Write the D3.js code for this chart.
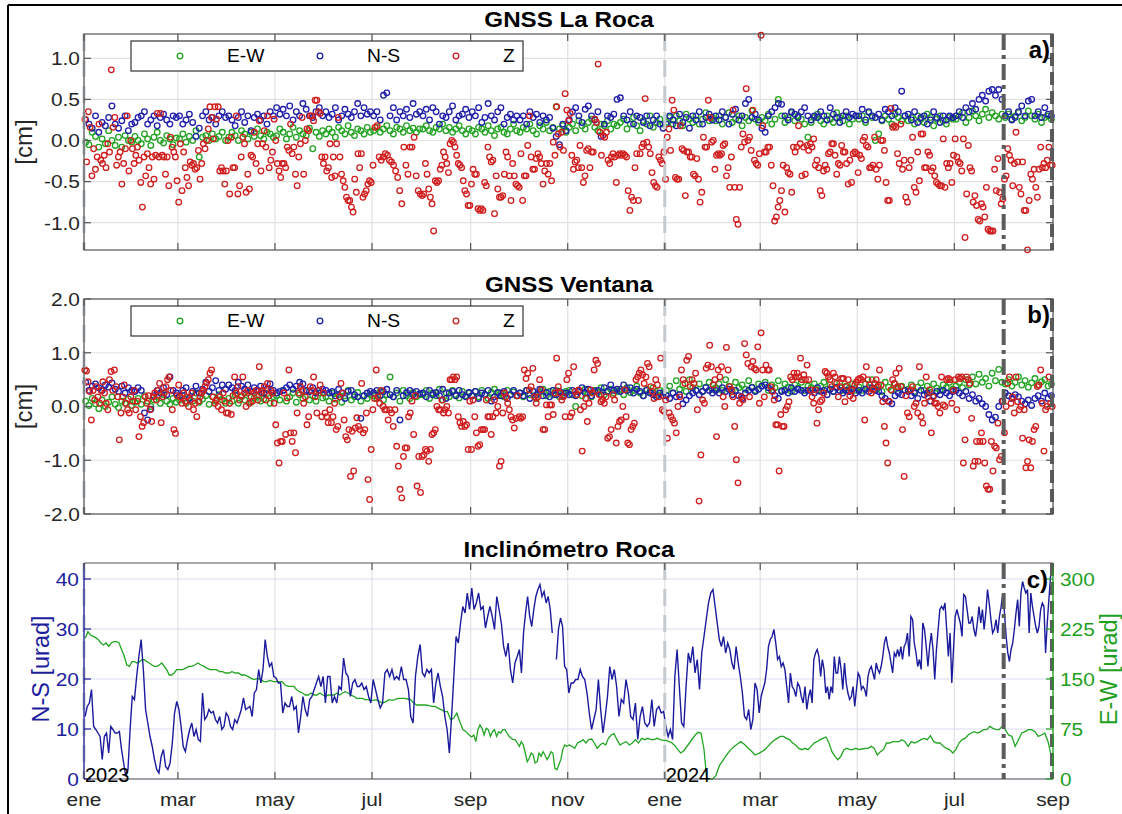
<!DOCTYPE html>
<html><head><meta charset="utf-8">
<script src="https://cdn.jsdelivr.net/npm/d3@7/dist/d3.min.js"></script>
<style>body{margin:0;background:#fff;}svg{display:block;}</style>
</head><body>
<script>
// ---------------- DATA (values per month, Jan 2023 .. Aug 2024) ----------------
const monthNames = ["ene","feb","mar","abr","may","jun","jul","ago","sep","oct","nov","dic"];
const panelTitles = ["GNSS La Roca","GNSS Ventana","Inclinómetro Roca"];
const legendLabels = ["E-W","N-S","Z"];
const ticksA = [-1.0,-0.5,0.0,0.5,1.0];
const ticksB = [-2.0,-1.0,0.0,1.0,2.0];
const ticksCLeft = [0,10,20,30,40];
const ticksCRight = [0,75,150,225,300];

// GNSS La Roca, Z [cm]
const rocaZ = [
[0.26,-0.26,0.35,0.16,-0.43,-0.10,-0.35,-0.20,0.2,-0.24,-0.28,-0.18,-0.33,-0.04,-0.14,0.86,0.16,0.28,-0.30,-0.2,-0.14,-0.53,-0.28,-0.1,0.3,-0.37,0,-0.1],
[-0.28,-0.18,-0.08,-0.24,-0.51,-0.81,-0.2,-0.43,-0.16,-0.33,-0.53,-0.2,-0.47,-0.18,0.33,-0.2,0.33,-0.18,-0.2,-0.41,-0.2,-0.55,0.04,-0.08,-0.14,-0.2,-0.49],
[-0.75,-0.04,-0.61,-0.14,-0.33,-0.45,-0.55,-0.26,-0.3,-0.28,-0.35,-0.33,-0.12,-0.47,-0.28,-0.04,-0.1,0,0.14,0.41,0.28,0.02,0.41,0.26,0.41,-0.37,-0.33,-0.37,-0.53,-0.37],
[0,-0.65,0.04,-0.33,-0.33,0.3,-0.65,-0.55,-0.2,0.04,-0.04,-0.63,-0.41,-0.59,-0.18,-0.2,0.1,-0.28,-0.04,0.24,-0.37,-0.04,0.12,-0.08,0.3,-0.33,-0.24,-0.14,0.26],
[0,-0.28,-0.37,-0.45,-0.28,-0.28,-0.33,-0.08,-0.12,0.2,-0.16,-0.08,-0.41,-0.55,-0.2,-0.04,0.28,-0.41,0,0.14,0.12,0.3,0.3,0.24,0.49,0.49,0.35,0.33,-0.2,-0.28],
[-0.2,-0.37,-0.33,-0.04,-0.45,-0.2,-0.43,-0.04,0.28,-0.2,-0.41,-0.49,-0.57,-0.69,-0.73,-0.73,-0.81,-0.87,-0.47,-0.63,-0.16,-0.33,-0.16,-0.69,-0.65,-0.61,-0.53,-0.49,-0.51],
[-0.3,0.16,0.18,-0.2,-0.24,-0.2,-0.16,-0.18,-0.24,-0.26,-0.3,-0.37,-0.45,-0.61,-0.77,-0.08,-0.3,-0.41,-0.08,-0.08,0.04,-0.43,-0.61,-0.65],
[-0.67,-0.65,-0.28,-0.41,-0.59,-0.69,-0.77,-1.10,-0.49,-0.51,-0.49,-0.35,-0.3,-0.14,-0.2,-0.28,-0.39,-0.04,0,-0.02,-0.08,-0.18,-0.28,-0.3,-0.33,-0.49,-0.61,-0.65,-0.79,-0.79],
[-0.53,-0.35,-0.41,-0.41,-0.83,-0.85,-0.83,-0.85,-0.51,-0.55,-0.08,-0.2,-0.26,-0.24,-0.89,-0.43,-0.59,-0.69,-0.69,-0.67,-0.41,-0.14,-0.2,-0.43,-0.73,-0.28,-0.43,-0.53,-0.55],
[-0.57,-0.16,-0.73,-0.43,-0.43,-0.06,0.3,-0.2,-0.35,-0.35,-0.22,-0.16,-0.2,-0.28,-0.53,-0.37,-0.28,-0.41,-0.28,-0.49,-0.02,-0.18,0.41,0.08,-0.08,0.1,-0.12,0.57,0.37],
[0.24,0.33,-0.18,-0.35,-0.26,-0.24,-0.33,-0.06,-0.33,-0.51,-0.43,-0.12,-0.1,-0.33,-0.14,-0.14,0.26,0.22,0.93,0.1,-0.18,0.06,0.04,0.1,-0.24,-0.28,-0.2,-0.16,-0.2],
[-0.51,-0.18,-0.16,-0.18,-0.16,-0.18,-0.2,-0.61,-0.85,-0.69,-0.73,-0.33,-0.16,-0.73,-0.16,-0.08,-0.04,0.51,-0.02,-0.08,-0.16,-0.39,-0.51,-0.55,-0.57,-0.2,-0.24,-0.28,-0.14],
[-0.47,0.04,0.14,-0.12,0.49,0.37,-0.45,-0.47,-0.47,0.18,-0.1,-0.12,-0.67,-0.14,-0.14,-0.2,-0.2,-0.41,-0.43,-0.22,-0.47,-0.75,-0.63,0.04,-0.08,-0.08,0.49,0.28,-0.02,0],
[-0.35,-0.18,-0.16,-0.18,-0.16,-0.06,-0.04,-0.43,-0.33,-0.57,-0.2,0.37,-0.57,-0.96,-1.02,-0.57,-0.08,0.08,-0.02,0.63,0,0.04,-0.12,0.37,-0.24,-0.28,-0.3,-0.16],
[1.28,0.18,-0.14,-0.14,-0.08,-0.08,-0.3,-0.55,-0.98,-0.93,-0.81,-0.73,-0.61,-0.3,-0.87,-0.33,-0.39,-0.41,-0.63,-0.08,-0.14,-0.08,0.18,-0.04,-0.43,-0.08,-0.41,-0.06,-0.12],
[-0.04,-0.08,0.02,-0.3,-0.24,-0.33,-0.61,-0.67,-0.37,-0.3,-0.35,-0.16,-0.14,-0.04,-0.04,-0.18,-0.41,-0.28,-0.3,-0.06,-0.14,-0.14,-0.28,-0.53,-0.24,-0.51,-0.16,-0.14,-0.16],
[-0.39,-0.18,-0.22,0,0.04,-0.06,-0.08,-0.33,-0.33,-0.3,0.04,-0.35,-0.47,-0.3,0,0,-0.12,-0.51,-0.73,-0.73,0.39,0.16,0.18,0.16,-0.16,-0.28,0.2,-0.35,-0.24,-0.69],
[-0.75,-0.33,-0.24,0.04,-0.57,-0.63,-0.14,-0.49,0.08,0.08,-0.33,-0.33,-0.14,-0.18,-0.37,-0.33,-0.43,-0.51,-0.53,-0.55,-0.55,0.02,-0.57,-0.28,-0.33,-0.28,-0.51,-0.18],
[0.02,-0.2,-0.26,-0.28,-0.37,0.02,-1.18,-0.65,-0.06,-0.33,-0.37,-0.75,-0.67,-0.79,-0.96,-0.98,-0.77,-0.81,-0.93,-0.57,-1.08,-1.1,-1.1,-1.1,-0.35,-0.61,-0.22,-0.63,-0.77,-0.71],
[-0.47,-0.43,-0.1,-0.18,-0.24,-0.55,-0.28,0.1,-0.26,-0.57,-0.65,-0.26,-0.85,-0.85,-1.33,-0.73,-0.41,-0.47,-0.35,-0.57,-0.69,-0.35,-0.08,-0.33,-0.28,-0.33,-0.24,-0.08,-0.3,-0.3]
];
// GNSS La Roca, E-W [cm]
const rocaEW = [
[-0.02,-0.05,0.1,0.05,-0.08,0.02,-0.04,0.12,0,-0.06,0.04,-0.08,0.06,0,-0.02],
[0.05,0,-0.04,0.08,0.02,-0.06,0.04,0.1,0,-0.03,0.06,0.02,-0.05,0.03],
[0.02,0.08,-0.02,0.05,0,0.12,-0.2,0.04,0.06,0,0.08,0.02,0.05,0.1,0],
[0.04,0.1,0.06,0,0.12,0.08,0.02,0.1,0.05,0.14,0.06,0.02,0.1,0.08,0.04],
[0.06,0.14,0.1,0.02,0.08,0.16,0.04,0.12,0.08,0.06,0.15,-0.1,0.1,0.05,0.12],
[0.08,0.14,0.1,0.04,0.16,0.12,0.08,0.18,0.1,0.06,0.14,0.12,0.08,0.16,0.1],
[0.12,0.16,0.1,0.14,0.18,0.12,0.08,0.16,0.14,0.1,0.18,0.12,0.15,0.1,0.14],
[0.14,0.18,0.12,0.1,0.16,0.14,0.2,0.12,0.16,0.1,0.14,0.18,0.12,0.08,0.14],
[0.12,0.08,0.16,0.14,0.1,0.18,0.12,0.06,0.14,0.16,0.1,0.08,0.14,0.2,0.12],
[0.1,0.16,0.14,0.2,0.12,0.08,0.18,0.14,0.22,0.12,0.16,0.41,0.14,0.18,0.1],
[0.16,0.2,0.12,0.24,0.18,0.14,0.22,0.26,0.16,0.12,0.2,0.18,0.24,0.14,0.2],
[0.18,0.22,0.26,0.14,0.2,0.28,0.18,0.12,0.24,0.2,0.3,0.16,0.22,0.26,0.2],
[0.22,0.28,0.2,0.3,0.24,0.18,0.32,0.26,0.22,0.3,0.2,0.26,0.34,0.24,0.28],
[0.24,0.3,0.2,0.28,0.34,0.22,0.26,0.3,0.18,0.28,0.24,0.36,0.26,0.22],
[0.28,0.24,0.32,0.2,0.26,0.5,0.3,0.22,0.28,0.34,0.24,0.3,0.26,0.2,0.04],
[0.22,0.28,0.32,0.24,0.2,0.3,0.26,0.22,0.34,0.28,0.24,0.3,0.2,0.26,0.3],
[0.26,0.3,0.22,0.34,0.28,0,0.08,0.24,0.3,0.26,0.2,0.32,0.28,0.24,0.3],
[0.24,0.28,0.2,0.3,0.26,0.22,0.32,0.28,0.18,0.26,0.3,0.24,0.2,0.28,0.26],
[0.26,0.3,0.34,0.22,0.28,0.36,0.3,0.24,0.32,0.38,0.28,0.34,0.3,0.26,0.32],
[0.28,0.32,0.26,0.3,0.34,0.24,0.28,0.36,0.3,0.26,0.32,0.22,0.28,0.3,0.26]
];
// GNSS La Roca, N-S [cm]
const rocaNS = [
[0.25,0.2,0.15,0.3,0.1,0.22,0.18,0.28,0.42,0.2,0.15,0.24,0.3,0.12,0.2],
[0.22,0.28,0.3,0.35,0.2,0.25,0.3,0.18,0.28,0.32,0.25,0.2,0.3,0.28],
[0.3,0.2,0.25,0.32,0.22,0.05,0.15,0.3,0.35,0.25,0.28,0.2,0.3,0.35,0.28],
[0.3,0.25,0.18,0.28,0.35,0.22,0.3,0.12,0.28,0.32,0.25,0.3,0.2,0.35,0.3],
[0.4,0.32,0.38,0.3,0.42,0.25,0.35,0.3,0.45,0.38,0.3,0.28,0.35,0.4,0.3],
[0.35,0.28,0.32,0.4,0.25,0.3,0.38,0.32,0.28,0.35,0.45,0.3,0.4,0.32,0.35],
[0.3,0.35,0.25,0.55,0.58,0.3,0.4,0.25,0.35,0.3,0.38,0.28,0.45,0.32,0.35],
[0.3,0.38,0.25,0.4,0.35,0.2,0.3,0.28,0.35,0.42,0.25,0.3,0.32,0.38,0.28],
[0.35,0.3,0.4,0.22,0.28,0.45,0.3,0.25,0.35,0.4,0.2,0.28,0.32,0.25,0.3],
[0.25,0.3,0.2,0.35,0.28,0.32,0.22,0.3,0.25,0.28,0.15,0.05,-0.05,0.2,0.12],
[0.25,0.35,0.4,0.3,0.22,0.38,0.42,0.3,0.25,0.35,0.05,0.2,0.3,0.28,0.32],
[0.5,0.52,0.3,0.25,0.35,0.2,0.3,0.28,0.22,0.3,0.18,0.25,0.3,0.2,0.15],
[0.2,0.3,0.25,0.18,0.32,0.22,0.28,0.15,0.3,0.25,0.35,0.2,0.28,0.32,0.25],
[0.3,0.25,0.35,0.28,0.2,0.32,0.38,0.25,0.3,0.45,0.5,0.28,0.32,0.25],
[0.15,0.1,0.3,0.35,0.4,0.45,0.44,0.3,0.25,0.35,0.32,0.28,0.35,0.4,0.3],
[0.25,0.3,0.28,0.35,0.3,0.25,0.4,0.32,0.28,0.22,0.3,0.35,0.28,0.32,0.3],
[0.3,0.38,0.25,0.35,0.3,0.28,0.32,0.25,0.38,0.35,0.3,0.4,0.35,0.6,0.3],
[0.32,0.25,0.35,0.22,0.28,0.3,0.2,0.25,0.35,0.28,0.22,0.3,0.25,0.3,0.28],
[0.3,0.35,0.28,0.4,0.35,0.45,0.38,0.5,0.55,0.48,0.6,0.62,0.55,0.62,0.5],
[0.3,0.35,0.25,0.28,0.35,0.42,0.3,0.48,0.5,0.3,0.35,0.28,0.4,0.32,0.3]
];
// GNSS Ventana, Z [cm]
const ventZ = [
[0.68,0.66,0.46,0.28,-0.25,0.3,0.12,0.37,0.18,0.06,0.3,0.46,0.25,0.06,-0.06,0.5,0.65,0.3,0.68,0.37,0.18,-0.62,-0.12,0.18,0.4,0.06,-0.06,-0.12,0.18,0.1],
[0.3,-0.06,0.1,-0.56,-0.19,-0.37,-0.3,0.18,0.06,0.2,-0.06,-0.28,0.18,0.25,0.12,0.3,0.43,-0.3,0.18,0.25,0.37,0.5,0.55,0.3,-0.06,-0.43,-0.5,0.2],
[0.4,0.18,0.06,0.25,0.1,0.18,0,0.12,0.25,-0.06,0.06,-0.19,0.1,0.18,0.25,0.3,0.37,0.44,0.5,0.62,0.68,0.18,0.06,0.12,0,0.18,-0.06,0.25,0.1,-0.12],
[-0.12,0.06,-0.15,0.2,0.55,0.25,0.37,0.12,0.2,0.55,0.25,0,0.3,0.06,0.18,0.1,0.25,0.3,0.12,0.74,0.25,0.3,0.37,0.12,0.43,0.2,0.3,0.25,0.06],
[-0.34,-0.68,-1.05,-0.65,-0.65,0.25,-0.52,0.16,0.68,-0.49,-0.65,-0.49,-0.86,-0.12,0.25,0.37,0.3,0.06,0.18,-0.34,-0.19,0.37,0.3,0.55,0.18,-0.12,0.3,0.4,-0.19,0.25],
[-0.12,-0.19,-0.3,-0.06,-0.3,-0.19,0.06,-0.43,-0.37,0.18,0.43,0.25,-0.25,-0.56,-0.62,-0.43,-1.3,-0.46,-1.2,-0.4,-0.21,-0.37,-0.43,0.43,-0.49,-0.43,-0.12,-1.36,-1.73,-0.8],
[-0.06,0.15,0.68,0.18,0.06,0.3,0,-0.06,-0.06,-0.25,-0.06,-0.12,-0.37,-0.06,-0.74,-1.11,-1.54,-1.7,-0.93,-0.77,-0.77,-0.19,-0.12,0.1,-0.52,0.2,-1.48,-0.93,-1.6],
[-0.93,-0.9,-0.8,-0.83,-1.02,-0.8,-0.52,-0.49,-0.43,0,-0.06,-0.06,0.12,-0.12,-0.06,0,-0.12,0.5,0.5,0.55,0.5,0.55,-0.19,-0.3,-0.37,-0.28,-0.37,-0.34,-0.8,0.1],
[-0.8,0.12,-0.19,-0.49,-0.74,-0.71,-0.43,-0.43,-0.43,0.12,-0.19,-0.19,-0.52,-0.19,0.12,-0.12,0,-1.11,-1.02,-0.12,0.25,0.18,0.06,-0.06,-0.19,-0.25,-0.4,-0.22,0.2],
[-0.19,-0.22,-0.19,0.68,0.52,0.62,0.31,0.37,0.71,0.18,0.06,0.18,0.5,0.31,-0.43,-0.43,0.03,-0.19,0.03,0.03,-0.15,0.25,0.9,0.37,0.25,0.12,0.18,-0.19,0.5],
[0.62,-0.19,-0.12,0.74,0.28,0.22,0.31,-0.06,-0.83,0,0.15,-0.28,0.06,0.31,0.25,0.68,0.86,0.8,0.22,0.09,0.12,0.06,0.18,-0.59,-0.56,-0.43,0.22,0.12],
[-0.68,-0.37,-0.28,-0.25,0,0.31,-0.19,-0.68,-0.71,-0.43,-0.37,-0.31,0.5,0.55,0.62,0.68,0.59,0.43,0.55,0.8,0.74,0.37,0.28,0.15,0.5,0.4,0.18,0.9,-0.06,-0.09],
[0.12,-0.59,-0.12,-0.19,-0.25,-0.31,-0.49,0,0.18,0.68,0.5,0.43,0.86,0.93,0.37,0.5,0.43,0.62,-0.06,-1.76,-0.9,0.12,0.06,0.71,0.77,1.14,0.74,0.4],
[0.5,-0.56,0.68,0.55,0.74,0.18,0,1.1,0.68,0.37,0.31,0.18,-0.37,-0.99,-1.42,0.06,0.18,0.12,1.17,0.96,0.8,0.18,0.74,0.84,0.71,0.68,1.11,0.06],
[1.37,0.68,0.18,0.77,0.68,0.68,0.37,0.28,0.12,-0.34,-0.34,-1.2,-0.15,-0.37,-0.37,-0.06,0,0.09,0.55,0.5,0.62,0.55,0.62,0.55,0.9,0.5,0.59,0.5,0.77,0.5],
[0.31,0.18,0.06,0.31,-0.31,-0.06,0.09,0.12,0.25,0.65,0.62,0.55,0.5,0.37,0.62,0.55,0.43,0.18,0.37,0.52,0.52,0.09,0.37,0.5,0.2,0.3,0.15,0.4,0.45],
[0.5,0.52,0.5,0.55,-0.25,0.74,0.5,0.4,0.25,0.31,0.43,0.5,0.37,0.68,0.4,0.09,-0.37,-0.68,-1.05,0.09,0.31,0.5,0.43,0.62,0.37,0.71,0.37,-0.43,-1.3,0.2],
[-0.12,-0.19,0.31,0.37,0,0.06,-0.12,0.74,-0.19,-0.31,0.06,0.55,0.18,0.31,-0.49,0.18,0.06,0.06,0,-0.12,0.55,0.03,0,0.5,0.52,0.5,0.06,0.3],
[0.5,-0.06,0.55,0.52,0.55,-1.05,-0.62,0.55,0.5,0.43,-0.22,-1.11,-1.02,-0.65,-1.02,-0.65,-0.49,-0.65,-1.05,-1.48,-1.54,-1.54,-0.65,-1.2,-0.74,-0.77,-0.31,-0.99,-0.93,0.1],
[-0.49,0,0.43,0.55,0.06,0.18,-0.12,0.55,0.09,-0.06,0,-0.59,-0.06,-1.14,-1.02,-0.62,-1.14,-0.65,-0.43,-0.37,0.37,0.4,0.68,0.06,-0.83,-0.06,0,0.55,0.06,0]
];
// GNSS Ventana, E-W [cm]
const ventEW = [
[0.1,0.02,0.15,0.05,-0.04,0.12,0,0.08,0.18,0.04,-0.02,0.1,0.06,0.14,0.02],
[0.08,0.15,0.04,0.2,0.1,0,0.12,0.18,0.06,0.22,0.1,0.04,0.15,0.08],
[0.12,0.2,0.06,0.16,0.1,0.25,0.08,0.14,0.2,0.04,0.18,0.1,0.22,0.12,0.06],
[0.15,0.1,0.22,0.06,0.18,0.12,0.25,0.08,0.16,0.2,0.1,0.14,0.24,0.06,0.18],
[0.2,0.12,0.3,0.1,0.18,0.25,0.08,0.22,0.15,0.28,0.12,0.2,0.1,0.25,0.16],
[0.18,0.1,0.25,0.14,0.22,0.08,0.2,0.3,0.12,0.18,0.26,0.1,0.2,0.15,0.22],
[0.2,0.15,0.28,0.12,0.22,0.55,0.18,0.25,0.1,0.3,0.2,0.15,0.26,0.18,0.22],
[0.22,0.3,0.15,0.25,0.2,0.32,0.12,0.26,0.18,0.3,0.22,0.16,0.28,0.2,0.25],
[0.2,0.28,0.18,0.3,0.22,0.15,0.26,0.32,0.2,0.25,0.18,0.3,0.22,0.27,0.2],
[0.25,0.18,0.3,0.22,0.28,0.15,0.26,0.32,0.2,0.28,0.22,0.3,0.18,0.25,0.28],
[0.3,0.22,0,0.28,0.2,0.32,0.25,0.18,0.3,0.26,0.35,0.22,0.28,0.32,0.25],
[0.28,0.32,0.22,0.35,0.26,0.3,0.38,0.25,0.2,0.32,0.28,0.35,0.22,0.3,0.26],
[0.3,0.38,0.25,0.48,0.32,0.4,0.28,0.5,0.35,0.3,0.42,0.28,0.36,0.45,0.32],
[0.35,0.42,0.3,0.5,0.38,0.28,0.45,0.35,0.4,0.32,0.48,0.36,0.3,0.42],
[0.38,0.45,0.3,0.4,0.35,0.48,0.3,0.42,0.36,0.28,0.4,0.34,0.45,0.3,0.38],
[0.35,0.42,0.3,0.38,0.45,0.32,0.4,0.28,0.36,0.44,0.3,0.38,0.34,0.42,0.3],
[0.36,0.3,0.42,0.35,0.5,0.32,0.4,0.28,0.45,0.36,0.3,0.42,0.34,0.38,0.3],
[0.32,0.4,0.28,0.36,0.44,0.3,0.38,0.26,0.42,0.34,0.3,0.4,0.35,0.45,0.32],
[0.38,0.45,0.35,0.5,0.4,0.55,0.42,0.6,0.45,0.52,0.38,0.62,0.48,0.69,0.45],
[0.42,0.5,0.38,0.45,0.55,0.4,0.48,0.36,0.44,0.52,0.4,0.46,0.5,0.38,0.42]
];
// GNSS Ventana, N-S [cm]
const ventNS = [
[0.45,0.3,0.38,0.42,0.35,0.3,0.4,0.36,0.44,0.32,0.28,0.38,0.25,0.35,0.3],
[0.28,0.35,0.3,-0.12,-0.25,-0.05,0.2,0.3,0.25,0.35,0.22,0.55,0.3,0.25],
[0.2,0.3,0.35,0.15,0.28,0.38,0.25,0.32,0.45,0.28,0.35,0.48,0.3,0.4,0.32],
[0.4,0.35,0.3,0.45,0.38,0.32,0.4,0.28,0.35,0.3,0.38,0.25,0.32,0.42,0.3],
[0.25,0.28,0.3,0.35,0.4,0.32,0.38,0.45,0.42,0.3,0.28,0.35,0.25,0.3,0.32],
[0.3,0.25,0.28,0.2,0.32,0.25,0.15,0.28,0.3,0.22,0.18,-0.22,0.2,0.25,0.28],
[0.25,0.3,0.2,0.28,0.32,0.22,0.18,0.3,-0.25,0.2,0.26,0.3,0.22,0.28,0.24],
[0.25,0.18,0.3,0.22,0.26,0.2,0.32,0.15,0.25,0.28,0.2,0.3,0.22,0.18,0.26],
[0.2,0.28,0.15,0.25,0.22,0.3,0.1,0.18,0.26,0.2,0.28,0.15,0.22,0.3,0.2],
[0.25,0.2,0.3,0.15,0.28,0.22,0.32,0.2,0.26,0.18,0.3,0.22,0.28,0.2,0.25],
[0.22,0.3,0.2,0.28,0.35,0.25,0.32,0.2,0.28,0.3,0.22,0.35,0.28,0.4,0.3],
[0.32,0.28,0.4,0.3,0.35,0.25,0.32,0.28,0.2,0.3,0.25,0.22,0.18,0.25,0.2],
[0.2,0.15,0.25,0.18,0.22,0.05,0.12,0.2,0.25,0.3,0.22,0.28,0.35,0.3,0.25],
[0.3,0.25,0.35,0.28,0.32,0.22,0.3,0.2,0.15,0.25,0.3,0.35,0.28,0.32],
[0.38,0.4,0.35,0.3,0.2,0.15,0.28,0.3,0.25,0.35,0.28,0.32,0.3,0.25,0.3],
[0.3,0.25,0.35,0.28,0.3,0.22,0.32,0.28,0.35,0.3,0.25,0.3,0.28,0.32,0.25],
[0.3,0.25,0.32,0.28,0.35,0.3,0.28,0.2,0.15,0.1,0.05,0.2,0.25,0.22,0.3],
[0.28,0.2,0.25,0.15,0.3,0.22,0.25,0.1,0.2,0.28,0.22,0.3,0.25,0.2,0.28],
[0.3,0.25,0.2,0.28,0.15,0.22,0.1,0.15,0.05,0,-0.15,-0.25,-0.2,0,0.1],
[0.25,0.2,0.15,0.22,0.18,0.1,0.05,0.12,0.02,0.15,0.2,0.1,0.25,0.15,0.2]
];
// Inclinómetro Roca, N-S [urad] (left axis); null = gap
const inclNS = [
[12.5,14.5,15.2,17.9,10.5,9.9,9.2,8.5,3.9,8.5,9.2,5.2,10.5,9.9,9.2,9.2,9.5,5.9,3.2,0.5,1.9,9.9,16.5],
[15.9,20.5,24.5,27.9,21.9,13.9,11.2,8.5,6.5,3.9,1.9,1.2,4.5,5.9,2.5,1.9,3.2,7.2,13.2,15.5],
[13.9,10.5,6.5,5.5,7.9,9.9,11.2,8.5,9.9,7.9,7.5,17.2,11.9,12.5,13.9,13.2,13.5,11.9,11.2,12.5,9.9,10.5,13.2],
[12.5,10.5,9.9,11.9,11.2,12.5,13.9,16.2,13.9,14.2,14.5,12.5,17.2,17.9,21.9,19.2,21.9,27.9,24.5,22.5,23.2,20.5],
[20.2,19.2,19.2,13.2,15.2,14.5,14.5,16.5,13.9,14.5,9.2,12.5,16.5,13.9,12.5,15.9,16.5,17.9,19.2,20.5,18.5,20.5],
[15.2,20.5,20.5,15.2,16.5,15.2,18.5,17.9,24.2,21.2,20.5,16.5,19.2,19.9,18.5,18.5,19.2,17.9,18.5,16.5,15.2],
[19.9,17.9,15.9,14.2,15.2,21.2,21.9,20.5,21.9,19.9,20.5,19.9,22.5,19.9,19.9,17.9,12.5,11.2,20.5,24.5,26.9],
[21.2,20.5,21.9,21.2,21.9,15.2,19.2,21.2,18.5,16.5,12.5,9.9,5.2,12.5,20.5,28.5,27.2,31.2,34.5,33.2,37.2,33.9],
[38.2,33.9,35.2,37.2,33.9,34.5,30.2,32.5,34.5,32.5,29.9,36.5,33.9,31.2,26.5,24.5,27.2,21.9,19.2,23.2,24.5],
[25.9,21.2,29.2,33.2,36.5,32.5,30.5,33.9,36.5,37.9,38.9,36.5,37.5,35.2,36.5,33.9,29.2,null,23.9,29.9,32.2,30.5,22.5,21.9],
[17.2,19.2,19.2,19.9,19.9,21.9,20.5,19.9,17.2,13.2,9.9,11.9,13.9,19.9,13.9,9.2,12.5,16.5,22.5,19.9,21.9],
[18.5,12.5,15.9,15.2,19.9,17.2,12.5,11.9,15.2,7.9,12.5,14.5,11.2,10.5,11.2,15.9,10.5,13.9,14.5,13.2,13.5],
[10.5,8.5,9.9,7.9,20.5,25.9,18.5,11.2,10.5,18.5,25.2,23.2,26.5,21.2,23.9,17.9,25.2,28.5,31.9,35.2,37.2,37.9],
[34.5,31.2,27.9,26.5,28.5,25.2,27.2,25.9,23.2,21.9,26.5,23.2,20.5,17.2,12.5,11.9,13.9,9.9,11.9,19.2,17.9,13.2],
[16.5,17.9,19.2,21.9,26.5,27.9,28.5,29.9,27.2,23.9,24.5,22.5,23.2,21.9,18.5,15.2,21.2,18.5,17.9,16.5,19.2,18.5,16.5,15.2,18.5,13.9,16.5],
[17.9,15.2,23.9,25.2,25.9,24.5,20.5,23.9,21.9,17.2,18.5,15.9,18.5,17.2,24.5,21.2,21.2,24.5,21.9,17.9,23.2,19.2,17.2,15.9,16.5,18.5,14.5,17.9],
[21.2,20.5,17.9,18.5,17.9,16.5,20.5,21.9,22.5,21.2,19.9,23.2,21.9,21.2,22.5,24.5,27.2,28.5,26.5,25.2,23.2,21.2,25.2,24.5,25.9,24.5,26.5,23.9,26.5,27.2],
[29.2,24.5,32.5,31.9,27.2,25.2,22.5,23.9,21.9,31.2,29.9,26.5,22.5,26.5,29.2,25.9,19.9,25.9,29.9,33.9,34.5,33.9,35.2,29.9,24.5,29.2,19.2,25.9],
[32.5,33.9,32.5,31.2,28.5,36.9,36.5,33.9,31.2,31.2,32.5,29.9,28.5,31.2,34.5,31.2,33.9,29.9,33.2,37.9,35.2,31.9,29.2,29.9,31.9,29.2,32.5,34.5,37.2],
[33.2,28.5,25.2,23.5,25.9,27.2,29.9,33.2,35.9,30.5,37.2,39.5,38.2,37.2,37.9,29.2,37.2,34.5,32.5,30.5,29.2,30.5,33.9,35.2,34.5,25.2,31.2,35.9,40.5,41.9]
];
// Inclinómetro Roca, E-W [urad] (right axis)
const inclEW = [
[211,221,216,214,212,209,204,201,204,199,204,206,206,204,194,184,171,169,176],
[176,174,176,179,179,176,174,171,169,169,171,174,169,164,156,156,159,164],
[164,164,166,169,169,171,174,171,169,166,164,164,164,161,161,159],
[159,161,159,159,156,156,154,151,149,151,149,146,146,148,146],
[146,146,146,141,139,139,139,134,131,129,126,126,129,126,126,129,126],
[124,126,126,126,129,126,129,131,129,126,124,121,121,121,119,119,118],
[118,119,116,114,116,119,118,119,121,121,121,120,119,114,111,111],
[111,111,110,109,109,106,104,101,101,89,91,99,86,74,71,66],
[63,66,56,74,81,76,66,76,74,64,71,74,64,71,69,74,74,69,64,61,59,59,54],
[49,56,51,39,26,31,39,36,24,26,39,34,41,36,29,34,41,39,16,14,21,29,44,51,49],
[51,49,46,54,56,59,54,59,60,54,46,51,54,51,61,66,68],
[59,51,54,56,51,54,59,54,61,59,61,59,59,61,59,58],
[58,56,54,50,44,39,42,48,54,60,66,70,69,45,0,0,0],
[5,20,28,36,43,48,52,56,52,47,42,36,38],
[41,44,49,54,58,61,64,64,61,59,54,51,46,44,46,44],
[49,54,56,59,61,63,54,41,34,29,34,44,46,44,44,46],
[44,45,46,46,49,46,36,41,44,54,54,56,56,56,59,56],
[49,56,54,56,59,61,59,65,56,54,54,49,46,44,39],
[44,54,59,61,66,69,71,69,71,74,74,79,76,74,74,79],
[74,66,64,49,59,69,71,74,74,71,64,66,69,56,34]
];
// Vertical reference lines
const lightLines = ["2023-01-01","2024-01-01"];
const dashDotLine = "2024-08-01";
const dashLine = "2024-09-01";

// ---------------- DRAWING ----------------
const FONT = '"Liberation Sans", Arial, Helvetica, sans-serif';
const SX = 1.1; // horizontal glyph stretch of the reference text
const W = 1122, H = 814;
const X0 = 84, X1 = 1053;
const tStart = new Date(Date.UTC(2023,0,1)), tEnd = new Date(Date.UTC(2024,8,1));
const x = d3.scaleUtc().domain([tStart, tEnd]).range([X0, X1]);
const monthStarts = d3.utcMonths(tStart, tEnd);
const xTicks = x.ticks(d3.utcMonth.every(2));
const parse = d3.utcParse("%Y-%m-%d");

function expand(monthly){
  const out = [];
  monthly.forEach((arr, m) => {
    const s = +monthStarts[m], e = +d3.utcMonth.offset(monthStarts[m], 1);
    arr.forEach((v, j) => out.push({t: new Date(s + (j + 0.5) / arr.length * (e - s)), v}));
  });
  return out;
}

const COL = {green:"#22a322", blue:"#1e1eaa", red:"#d01e1e", axis:"#555", lab:"#262626",
  nsLine:"#1a1a9c", ewLine:"#22a522", nsLab:"#1d1d9e", ewLab:"#1fa01f"};

const svg = d3.select("body").append("svg").attr("width", W).attr("height", H)
  .style("font-family", FONT);

// horizontal text helper with stretch
function htext(sel, fx, fy){
  return sel.attr("transform", (d, i) => `translate(${typeof fx === "function" ? fx(d, i) : fx},${typeof fy === "function" ? fy(d, i) : fy}) scale(${SX},1)`);
}

// figure border (top and left)
svg.append("line").attr("x1",8).attr("x2",W).attr("y1",5).attr("y2",5).attr("stroke","#000").attr("stroke-width",2);
svg.append("line").attr("x1",8).attr("x2",8).attr("y1",5).attr("y2",H).attr("stroke","#000").attr("stroke-width",2);

function grid(g, top, bottom, y, yTicks, hcol){
  g.selectAll(null).data(xTicks).join("line")
    .attr("x1", d=>x(d)).attr("x2", d=>x(d)).attr("y1", top).attr("y2", bottom)
    .attr("stroke", "#e2e2e2").attr("stroke-width", 1.2);
  g.selectAll(null).data(yTicks).join("line")
    .attr("x1", X0).attr("x2", X1).attr("y1", d=>y(d)).attr("y2", d=>y(d))
    .attr("stroke", hcol).attr("stroke-width", 1.2);
}

function refLines(g, top, bottom){
  g.selectAll(null).data(lightLines).join("line")
    .attr("x1", d=>x(parse(d))).attr("x2", d=>x(parse(d))).attr("y1", top).attr("y2", bottom)
    .attr("stroke", "#c4cad0").attr("stroke-width", 3).attr("stroke-dasharray", "17,9");
  g.append("line").attr("x1", x(parse(dashDotLine))).attr("x2", x(parse(dashDotLine)))
    .attr("y1", top).attr("y2", bottom).attr("stroke", "#5c5c5c").attr("stroke-width", 4)
    .attr("stroke-dasharray", "16,5,4,5");
  g.append("line").attr("x1", x(parse(dashLine)) - 1).attr("x2", x(parse(dashLine)) - 1)
    .attr("y1", top).attr("y2", bottom).attr("stroke", "#5c5c5c").attr("stroke-width", 4)
    .attr("stroke-dasharray", "13,6");
}

function xTickMarks(g, top, bottom){
  g.selectAll(null).data(xTicks).join("line")
    .attr("x1", d=>x(d)).attr("x2", d=>x(d)).attr("y1", top).attr("y2", top + 7)
    .attr("stroke", COL.axis).attr("stroke-width", 1.2);
  g.selectAll(null).data(xTicks).join("line")
    .attr("x1", d=>x(d)).attr("x2", d=>x(d)).attr("y1", bottom).attr("y2", bottom - 7)
    .attr("stroke", COL.axis).attr("stroke-width", 1.2);
}

function scatterPanel(top, bottom, domain, yTicks, series, title, tag){
  const y = d3.scaleLinear().domain(domain).range([bottom, top]);
  const g = svg.append("g");
  grid(g, top, bottom, y, yTicks, "#e2e2e2");
  series.forEach(s => {
    g.append("g").selectAll("circle").data(expand(s.data).filter(d=>d.v!==null)).join("circle")
      .attr("cx", d=>x(d.t)).attr("cy", d=>y(d.v)).attr("r", 2.8)
      .attr("fill", "none").attr("stroke", s.color).attr("stroke-width", 1.3);
  });
  refLines(g, top, bottom);
  g.append("rect").attr("x", X0).attr("y", top).attr("width", X1 - X0).attr("height", bottom - top)
    .attr("fill", "none").attr("stroke", COL.axis).attr("stroke-width", 1.2);
  xTickMarks(g, top, bottom);
  g.selectAll(null).data(yTicks).join("line").attr("x1", X0).attr("x2", X0 + 7)
    .attr("y1", d=>y(d)).attr("y2", d=>y(d)).attr("stroke", COL.axis).attr("stroke-width", 1.2);
  g.selectAll(null).data(yTicks).join("line").attr("x1", X1).attr("x2", X1 - 7)
    .attr("y1", d=>y(d)).attr("y2", d=>y(d)).attr("stroke", COL.axis).attr("stroke-width", 1.2);
  htext(g.selectAll(null).data(yTicks).join("text"), X0 - 4, d=>y(d))
    .attr("text-anchor", "end").attr("dy", "0.36em").attr("font-size", 19).attr("fill", COL.lab)
    .text(d=>d.toFixed(1));
  g.append("text").attr("transform", `translate(32,${(top + bottom) / 2}) rotate(-90)`)
    .attr("text-anchor", "middle").attr("font-size", 24).attr("fill", COL.lab).text("[cm]");
  // legend
  const ly = top + 7, lh = 30;
  const lg = g.append("g");
  lg.append("rect").attr("x", 131).attr("y", ly).attr("width", 392).attr("height", lh)
    .attr("fill", "#fff").attr("stroke", "#333").attr("stroke-width", 1.2);
  const lx = [180, 320, 456];
  series.forEach((s, i) => {
    lg.append("circle").attr("cx", lx[i]).attr("cy", ly + lh / 2).attr("r", 2.8)
      .attr("fill", "none").attr("stroke", s.color).attr("stroke-width", 1.3);
    htext(lg.append("text"), lx[i] + 47, ly + lh / 2).attr("dy", "0.36em")
      .attr("font-size", 17.5).attr("fill", "#000").text(legendLabels[i]);
  });
  htext(g.append("text"), 569, top - 7).attr("text-anchor", "middle")
    .attr("font-size", 22).attr("font-weight", "bold").attr("fill", "#000").text(title);
  g.append("text").attr("x", 1050).attr("y", top + 24).attr("text-anchor", "end")
    .attr("font-size", 24).attr("font-weight", "bold").attr("fill", "#000").text(tag);
}

scatterPanel(34, 250, [-1.332, 1.296], ticksA,
  [{data: rocaEW, color: COL.green}, {data: rocaNS, color: COL.blue}, {data: rocaZ, color: COL.red}],
  panelTitles[0], "a)");
scatterPanel(299, 514, [-2, 2], ticksB,
  [{data: ventEW, color: COL.green}, {data: ventNS, color: COL.blue}, {data: ventZ, color: COL.red}],
  panelTitles[1], "b)");

// Panel c
(function(){
  const top = 563, bottom = 779;
  const yL = d3.scaleLinear().domain([0, 43.2]).range([bottom, top]);
  const yR = d3.scaleLinear().domain([0, 324]).range([bottom, top]);
  const g = svg.append("g");
  grid(g, top, bottom, yL, ticksCLeft, "#dcdcf2");
  const ew = expand(inclEW), ns = expand(inclNS);
  g.append("path").datum(ew)
    .attr("d", d3.line().x(d=>x(d.t)).y(d=>yR(d.v)))
    .attr("fill", "none").attr("stroke", COL.ewLine).attr("stroke-width", 1.3);
  g.append("path").datum(ns)
    .attr("d", d3.line().defined(d=>d.v !== null).x(d=>x(d.t)).y(d=>yL(d.v)))
    .attr("fill", "none").attr("stroke", COL.nsLine).attr("stroke-width", 1.4);
  refLines(g, top, bottom);
  g.append("line").attr("x1", X0).attr("x2", X1).attr("y1", top).attr("y2", top).attr("stroke", COL.axis).attr("stroke-width", 1.2);
  g.append("line").attr("x1", X0).attr("x2", X1).attr("y1", bottom).attr("y2", bottom).attr("stroke", COL.axis).attr("stroke-width", 1.2);
  g.append("line").attr("x1", X0).attr("x2", X0).attr("y1", top).attr("y2", bottom).attr("stroke", COL.nsLab).attr("stroke-width", 1.3);
  g.append("line").attr("x1", X1).attr("x2", X1).attr("y1", top).attr("y2", bottom).attr("stroke", COL.ewLab).attr("stroke-width", 1.3);
  xTickMarks(g, top, bottom);
  g.selectAll(null).data(ticksCLeft).join("line").attr("x1", X0).attr("x2", X0 + 7)
    .attr("y1", d=>yL(d)).attr("y2", d=>yL(d)).attr("stroke", COL.nsLab).attr("stroke-width", 1.2);
  g.selectAll(null).data(ticksCRight).join("line").attr("x1", X1).attr("x2", X1 - 7)
    .attr("y1", d=>yR(d)).attr("y2", d=>yR(d)).attr("stroke", COL.ewLab).attr("stroke-width", 1.2);
  htext(g.selectAll(null).data(ticksCLeft).join("text"), X0 - 5, d=>yL(d))
    .attr("text-anchor", "end").attr("dy", "0.36em").attr("font-size", 19).attr("fill", COL.nsLab).text(d=>d);
  htext(g.selectAll(null).data(ticksCRight).join("text"), X1 + 7, d=>yR(d))
    .attr("text-anchor", "start").attr("dy", "0.36em").attr("font-size", 19).attr("fill", COL.ewLab).text(d=>d);
  htext(g.selectAll(null).data(xTicks).join("text"), d=>x(d), 806)
    .attr("text-anchor", "middle").attr("font-size", 19).attr("fill", COL.lab)
    .text(d=>monthNames[d.getUTCMonth()]);
  g.selectAll(null).data(lightLines).join("text").attr("x", d=>x(parse(d)) + 1).attr("y", 782)
    .attr("font-size", 20).attr("fill", "#000").text(d=>d.slice(0,4));
  g.append("text").attr("transform", `translate(49,${(top + bottom) / 2 - 2}) rotate(-90)`)
    .attr("text-anchor", "middle").attr("font-size", 23.5).attr("fill", COL.nsLab).text("N-S [urad]");
  g.append("text").attr("transform", `translate(1117,${(top + bottom) / 2 - 2}) rotate(-90)`)
    .attr("text-anchor", "middle").attr("font-size", 23.5).attr("fill", COL.ewLab).text("E-W [urad]");
  htext(g.append("text"), 569, top - 6).attr("text-anchor", "middle")
    .attr("font-size", 22).attr("font-weight", "bold").attr("fill", "#000").text(panelTitles[2]);
  g.append("text").attr("x", 1048).attr("y", top + 25).attr("text-anchor", "end")
    .attr("font-size", 24).attr("font-weight", "bold").attr("fill", "#000").text("c)");
})();
</script>
</body></html>
